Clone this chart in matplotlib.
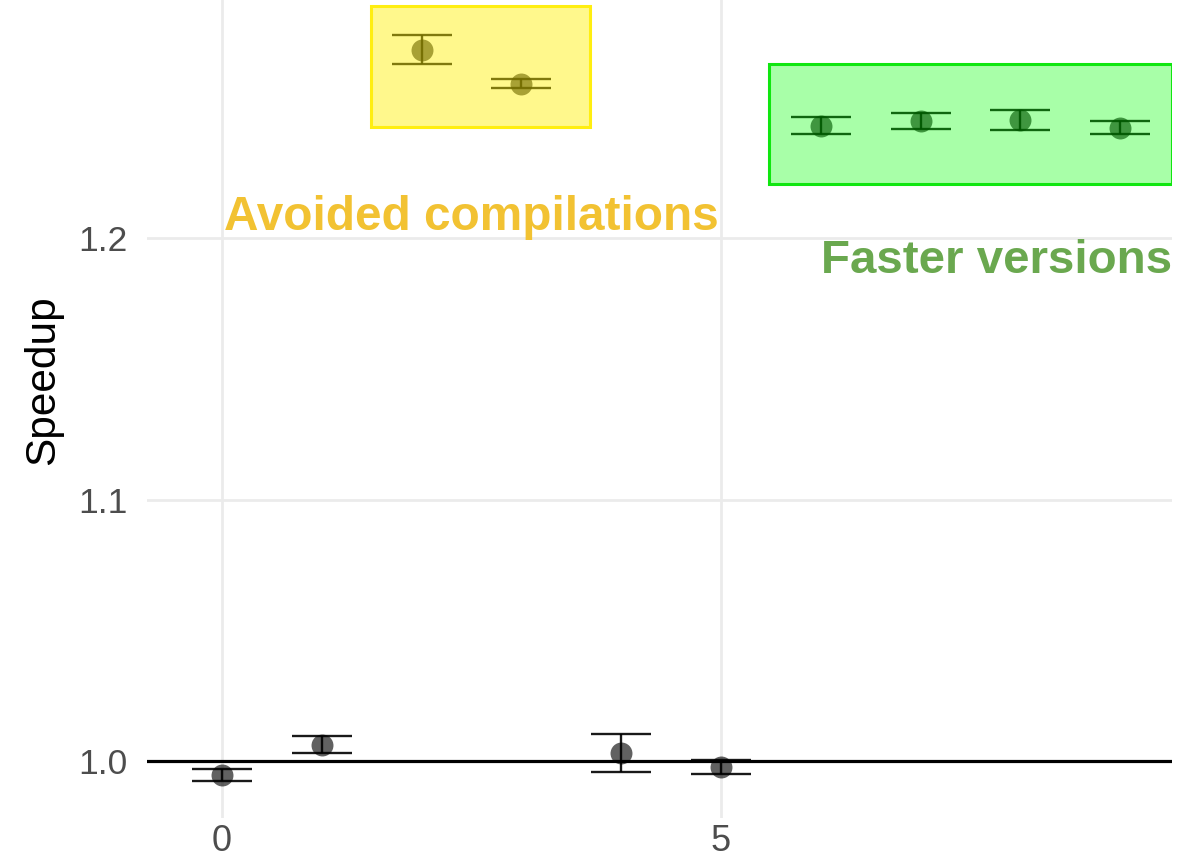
import matplotlib
matplotlib.use("Agg")
import matplotlib.pyplot as plt
from matplotlib.patches import Rectangle

# Benchmark runs and their measured speedup (mean and half-width of error bar)
runs = [0, 1, 2, 3, 4, 5, 6, 7, 8, 9]
speedup = [0.9947, 1.0064, 1.2719, 1.2589, 1.0032, 0.9978, 1.2429, 1.2447, 1.2451, 1.2422]
spread = [0.0022, 0.0031, 0.0055, 0.0017, 0.0072, 0.0026, 0.0033, 0.0029, 0.0037, 0.0025]

x_ticks = [0, 5]
y_ticks = [1.0, 1.1, 1.2]
y_tick_labels = ["1.0", "1.1", "1.2"]

avoided_label = "Avoided compilations"
faster_label = "Faster versions"

plt.rcParams["font.family"] = ["Liberation Sans", "DejaVu Sans"]

fig = plt.figure(figsize=(11.8, 8.66), dpi=100)
ax = fig.add_axes([147 / 1180, 48 / 866, 1025 / 1180, 818 / 866])
ax.set_xlim(-0.7515, 9.519)
ax.set_ylim(0.97833, 1.29096)

for s in ax.spines.values():
    s.set_visible(False)

ax.set_xticks(x_ticks)
ax.set_yticks(y_ticks)
ax.set_yticklabels(y_tick_labels)
ax.tick_params(axis="both", length=0, labelcolor="#4D4D4D")
ax.tick_params(axis="y", pad=14, labelsize=25.5)
ax.tick_params(axis="x", pad=4.5, labelsize=26)
ax.grid(True, color="#EBEBEB", linewidth=2.0)
ax.set_axisbelow(True)

# Baseline at speedup 1
ax.axhline(1.0, color="black", linewidth=2.3, zorder=2)

ax.plot(runs, speedup, "o", color="black", alpha=0.62, markersize=15.8,
        markeredgewidth=0, zorder=3)
ax.errorbar(runs, speedup, yerr=spread, fmt="none", ecolor="black",
            elinewidth=1.7, capsize=21.6, capthick=1.7, alpha=0.9, zorder=4)

# Translucent highlight boxes laid over the two groups of runs
ax.add_patch(Rectangle((1.49, 1.2425), 2.2, 0.0462, facecolor=(1.0, 0.94, 0.0, 0.45),
                       edgecolor="#FFEE10", linewidth=2.2, zorder=6))
ax.add_patch(Rectangle((5.48, 1.2206), 4.04, 0.0459, facecolor=(0.0, 1.0, 0.0, 0.34),
                       edgecolor="#10E610", linewidth=2.2, zorder=6))

ax.text(2.5, 1.2031, avoided_label, color="#F2C232", fontsize=34.4,
        fontweight="bold", ha="center", va="baseline", zorder=5)
ax.text(9.519, 1.1868, faster_label, color="#6AA84F", fontsize=34.2,
        fontweight="bold", ha="right", va="baseline", zorder=5)

ax.set_ylabel("Speedup", fontsize=30.5, color="black")
ax.yaxis.set_label_coords(-0.082, 0.535)

fig.savefig("out.png", dpi=100)
